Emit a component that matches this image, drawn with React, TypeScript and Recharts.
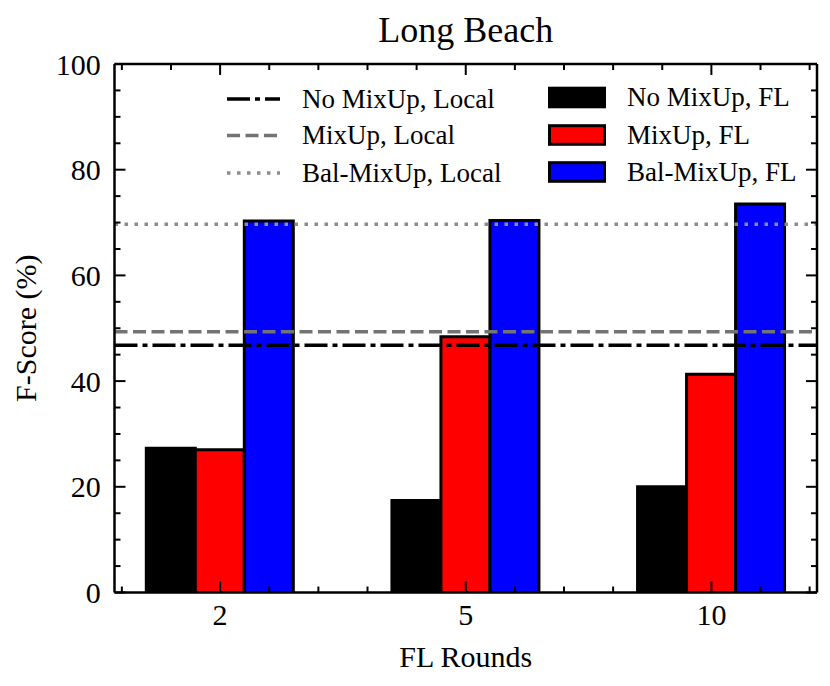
import React from 'react';
import { BarChart, Bar, XAxis, YAxis, ReferenceLine, Legend } from 'recharts';

const FONT = '"Liberation Serif", "Times New Roman", Times, serif';

// ---- data ----
const categories = ['2', '5', '10'];
const categoryPositions = [0, 1, 2];
const noMixupFL = [27.3, 17.4, 20.0];
const mixupFL = [27.0, 48.4, 41.3];
const balMixupFL = [70.3, 70.4, 73.5];

const seriesKeys = ['noMixupFL', 'mixupFL', 'balMixupFL'];
const seriesNames = ['No MixUp, FL', 'MixUp, FL', 'Bal-MixUp, FL'];
const seriesColors = ['#000000', '#ff0000', '#0000ff'];

const localValues = [46.8, 49.35, 69.7];
const localNames = ['No MixUp, Local', 'MixUp, Local', 'Bal-MixUp, Local'];
const localColors = ['#000000', '#737373', '#8c8c8c'];
const localDashes = ['23 5 5 5', '13 5.5', '3.5 6.5'];

const yMajorTicks = [0, 20, 40, 60, 80, 100];
const yMinorTicks = [5, 10, 15, 25, 30, 35, 45, 50, 55, 65, 70, 75, 85, 90, 95];
const xMinorTicks = [-0.4, -0.2, 0.2, 0.4, 0.6, 0.8, 1.2, 1.4, 1.6, 1.8, 2.2, 2.4];
const xDomain = [-0.43, 2.43];
const yDomain = [0, 100];

const title = 'Long Beach';
const xLabel = 'FL Rounds';
const yLabel = 'F-Score (%)';

const data = categoryPositions.map((x, i) => ({
  x,
  category: categories[i],
  noMixupFL: noMixupFL[i],
  mixupFL: mixupFL[i],
  balMixupFL: balMixupFL[i],
}));

const xAllTicks = [...categoryPositions, ...xMinorTicks].sort((a, b) => a - b);
const yAllTicks = [...yMajorTicks, ...yMinorTicks].sort((a, b) => a - b);
const isXMajor = (v: number) => categoryPositions.some((c) => Math.abs(c - v) < 1e-6);
const isYMajor = (v: number) => yMajorTicks.some((c) => Math.abs(c - v) < 1e-6);

const MAJOR = 11;
const MINOR = 6;
const TICK_W = 2;
const AXIS_STROKE = { stroke: '#000', strokeWidth: 2.5 };

const makeTick = (side: 'bottom' | 'top' | 'left' | 'right') => (props: any) => {
  const { x, y, payload } = props;
  const v = payload?.value;
  const isX = side === 'bottom' || side === 'top';
  const len = (isX ? isXMajor(v) : isYMajor(v)) ? MAJOR : MINOR;
  let x2 = x;
  let y2 = y;
  if (side === 'bottom') y2 = y - len;
  if (side === 'top') y2 = y + len;
  if (side === 'left') x2 = x + len;
  if (side === 'right') x2 = x - len;
  return <line x1={x} y1={y} x2={x2} y2={y2} stroke="#000" strokeWidth={TICK_W} />;
};
const BottomTick = makeTick('bottom');
const TopTick = makeTick('top');
const LeftTick = makeTick('left');
const RightTick = makeTick('right');

const YLabel = (props: any) => {
  const vb = props.viewBox || { x: 0, y: 64, width: 114.5, height: 528.5 };
  const cx = vb.x + 36;
  const cy = vb.y + vb.height / 2;
  return (
    <text
      x={cx}
      y={cy}
      transform={`rotate(-90 ${cx} ${cy})`}
      textAnchor="middle"
      fontFamily={FONT}
      fontSize={30}
      fill="#000"
    >
      {yLabel}
    </text>
  );
};

const leftRows = [99, 135.5, 173];
const rightRows = [97.5, 135, 172];

const LegendContent = () => (
  <svg width={830} height={200} style={{ display: 'block', overflow: 'visible' }}>
    {localNames.map((n, i) => (
      <g key={n}>
        <line
          x1={227}
          x2={280}
          y1={leftRows[i]}
          y2={leftRows[i]}
          stroke={localColors[i]}
          strokeWidth={3.5}
          strokeDasharray={localDashes[i]}
        />
        <text x={302} y={leftRows[i] + 8.5} fontFamily={FONT} fontSize={27} fill="#000">
          {n}
        </text>
      </g>
    ))}
    {seriesNames.map((n, i) => (
      <g key={n}>
        <rect
          x={549.5}
          y={rightRows[i] - 9.3}
          width={55}
          height={18.6}
          fill={seriesColors[i]}
          stroke="#000"
          strokeWidth={3}
        />
        <text x={627} y={rightRows[i] + 8.5} fontFamily={FONT} fontSize={27} fill="#000">
          {n}
        </text>
      </g>
    ))}
  </svg>
);

export default function App() {
  return (
    <div style={{ position: 'absolute', left: 0, top: 0, width: 830, height: 686, background: '#fff' }}>
      <svg
        width={830}
        height={60}
        style={{ position: 'absolute', left: 0, top: 0, pointerEvents: 'none' }}
      >
        <text x={465.75} y={42} textAnchor="middle" fontFamily={FONT} fontSize={36} fill="#000">
          {title}
        </text>
      </svg>
      <div style={{ position: 'absolute', left: 0, top: 0 }}>
        <BarChart
          width={830}
          height={686}
          data={data}
          margin={{ top: 64, right: 13, bottom: 0, left: 0 }}
          barGap={0}
          barSize={49}
        >
          <XAxis
            xAxisId="x"
            dataKey="x"
            type="number"
            domain={xDomain}
            allowDataOverflow
            ticks={categoryPositions}
            interval={0}
            tickFormatter={(v: number) => categories[categoryPositions.indexOf(v)] ?? ''}
            height={93.5}
            tickLine={false}
            tickSize={0}
            tickMargin={11}
            axisLine={AXIS_STROKE}
            tick={{ fill: '#000', fontSize: 30, fontFamily: FONT }}
            label={{ value: xLabel, position: 'insideBottom', offset: 19, fill: '#000', fontSize: 30, fontFamily: FONT }}
          />
          <XAxis xAxisId="xB" dataKey="x" type="number" domain={xDomain} allowDataOverflow ticks={xAllTicks} interval={0}
            orientation="bottom" mirror height={20} tick={BottomTick} tickSize={0} tickMargin={0} tickLine={false} axisLine={false} />
          <XAxis xAxisId="xT" dataKey="x" type="number" domain={xDomain} allowDataOverflow ticks={xAllTicks} interval={0}
            orientation="top" mirror height={20} tick={TopTick} tickSize={0} tickMargin={0} tickLine={false} axisLine={AXIS_STROKE} />

          <YAxis
            yAxisId="y"
            type="number"
            domain={yDomain}
            allowDataOverflow
            ticks={yMajorTicks}
            interval={0}
            width={114.5}
            tickLine={false}
            tickSize={0}
            tickMargin={13.8}
            axisLine={AXIS_STROKE}
            tick={{ fill: '#000', fontSize: 30, fontFamily: FONT }}
            label={YLabel}
          />
          <YAxis yAxisId="yL" type="number" domain={yDomain} allowDataOverflow ticks={yAllTicks} interval={0}
            orientation="left" mirror width={20} tick={LeftTick} tickSize={0} tickMargin={0} tickLine={false} axisLine={false} />
          <YAxis yAxisId="yR" type="number" domain={yDomain} allowDataOverflow ticks={yAllTicks} interval={0}
            orientation="right" mirror width={20} tick={RightTick} tickSize={0} tickMargin={0} tickLine={false} axisLine={AXIS_STROKE} />

          {localValues.map((v, i) => (
            <ReferenceLine
              key={localNames[i]}
              xAxisId="x"
              yAxisId="y"
              y={v}
              stroke={localColors[i]}
              strokeWidth={3.5}
              strokeDasharray={localDashes[i]}
            />
          ))}

          {seriesKeys.map((k, i) => (
            <Bar
              key={k}
              xAxisId="x"
              yAxisId="y"
              dataKey={k}
              name={seriesNames[i]}
              fill={seriesColors[i]}
              stroke="#000"
              strokeWidth={3}
              isAnimationActive={false}
            />
          ))}

          <Legend
            layout="horizontal"
            verticalAlign="middle"
            align="center"
            wrapperStyle={{ left: 0, top: 0, width: 830, height: 200, pointerEvents: 'none' }}
            content={LegendContent}
          />
        </BarChart>
      </div>
    </div>
  );
}
